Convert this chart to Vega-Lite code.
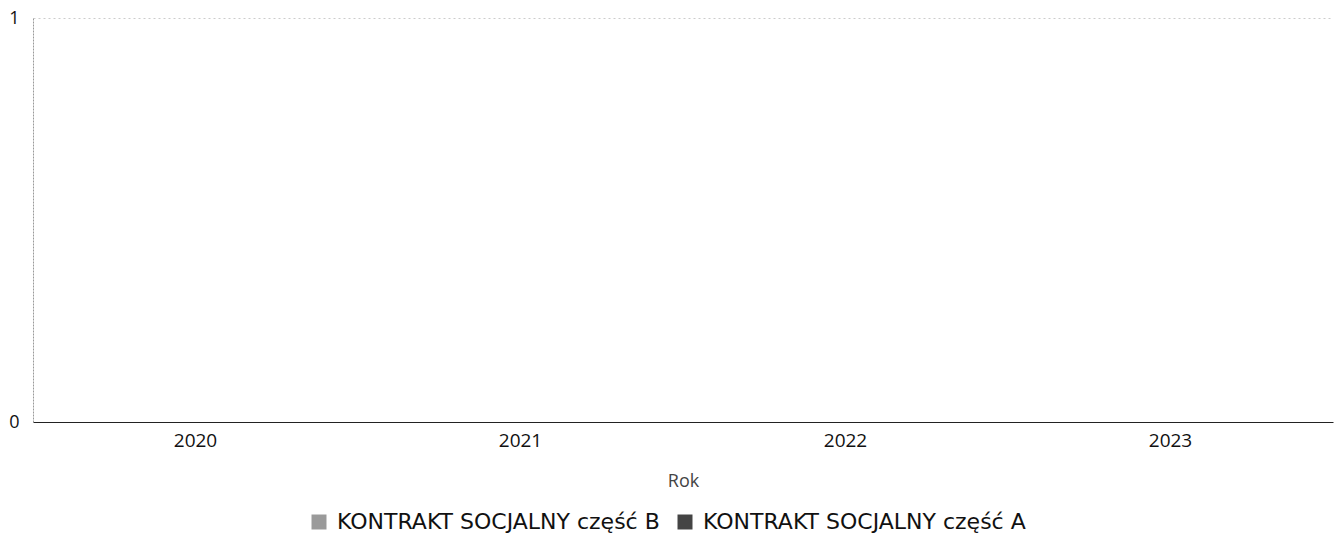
{
  "$schema": "https://vega.github.io/schema/vega-lite/v6.json",
  "autosize": {"type": "none"},
  "width": 1300,
  "height": 404,
  "padding": {"left": 33, "top": 18, "right": 3, "bottom": 116},
  "background": "white",
  "data": {
    "values": [
      {"Rok": "2020", "seria": "KONTRAKT SOCJALNY część B", "wartosc": 0},
      {"Rok": "2020", "seria": "KONTRAKT SOCJALNY część A", "wartosc": 0},
      {"Rok": "2021", "seria": "KONTRAKT SOCJALNY część B", "wartosc": 0},
      {"Rok": "2021", "seria": "KONTRAKT SOCJALNY część A", "wartosc": 0},
      {"Rok": "2022", "seria": "KONTRAKT SOCJALNY część B", "wartosc": 0},
      {"Rok": "2022", "seria": "KONTRAKT SOCJALNY część A", "wartosc": 0},
      {"Rok": "2023", "seria": "KONTRAKT SOCJALNY część B", "wartosc": 0},
      {"Rok": "2023", "seria": "KONTRAKT SOCJALNY część A", "wartosc": 0}
    ]
  },
  "mark": {"type": "bar"},
  "encoding": {
    "x": {
      "field": "Rok",
      "type": "ordinal",
      "scale": {"paddingInner": 0.2, "paddingOuter": 0.1},
      "axis": {
        "labelAngle": 0,
        "ticks": false,
        "labelPadding": 9,
        "labelFontSize": 19,
        "labelColor": "#111",
        "labelFont": "Open Sans",
        "domainColor": "#222",
        "domainWidth": 1.2,
        "title": "Rok",
        "titleFont": "Open Sans",
        "titleFontSize": 18,
        "titleFontWeight": "normal",
        "titleColor": "#444",
        "titlePadding": 22
      }
    },
    "y": {
      "field": "wartosc",
      "type": "quantitative",
      "stack": "zero",
      "scale": {"domain": [0, 1]},
      "axis": {
        "values": [0, 1],
        "format": "d",
        "ticks": false,
        "labelPadding": 14,
        "labelFontSize": 18,
        "labelColor": "#111",
        "labelFont": "Open Sans",
        "domainColor": "#999",
        "domainDash": [2, 1],
        "grid": true,
        "gridColor": "#ccc",
        "gridDash": [2, 3],
        "title": null
      }
    },
    "color": {
      "field": "seria",
      "type": "nominal",
      "scale": {
        "domain": ["KONTRAKT SOCJALNY część B", "KONTRAKT SOCJALNY część A"],
        "range": ["#9a9a9a", "#444444"]
      },
      "legend": {
        "orient": "none",
        "legendX": 275,
        "legendY": 493,
        "direction": "horizontal",
        "title": null,
        "symbolType": "square",
        "symbolSize": 225,
        "symbolStrokeWidth": 0,
        "labelFont": "DejaVu Sans",
        "labelFontSize": 22,
        "labelColor": "#111",
        "labelLimit": 0,
        "labelOffset": 7,
        "columnPadding": 14
      }
    }
  },
  "config": {
    "view": {"stroke": null}
  }
}
